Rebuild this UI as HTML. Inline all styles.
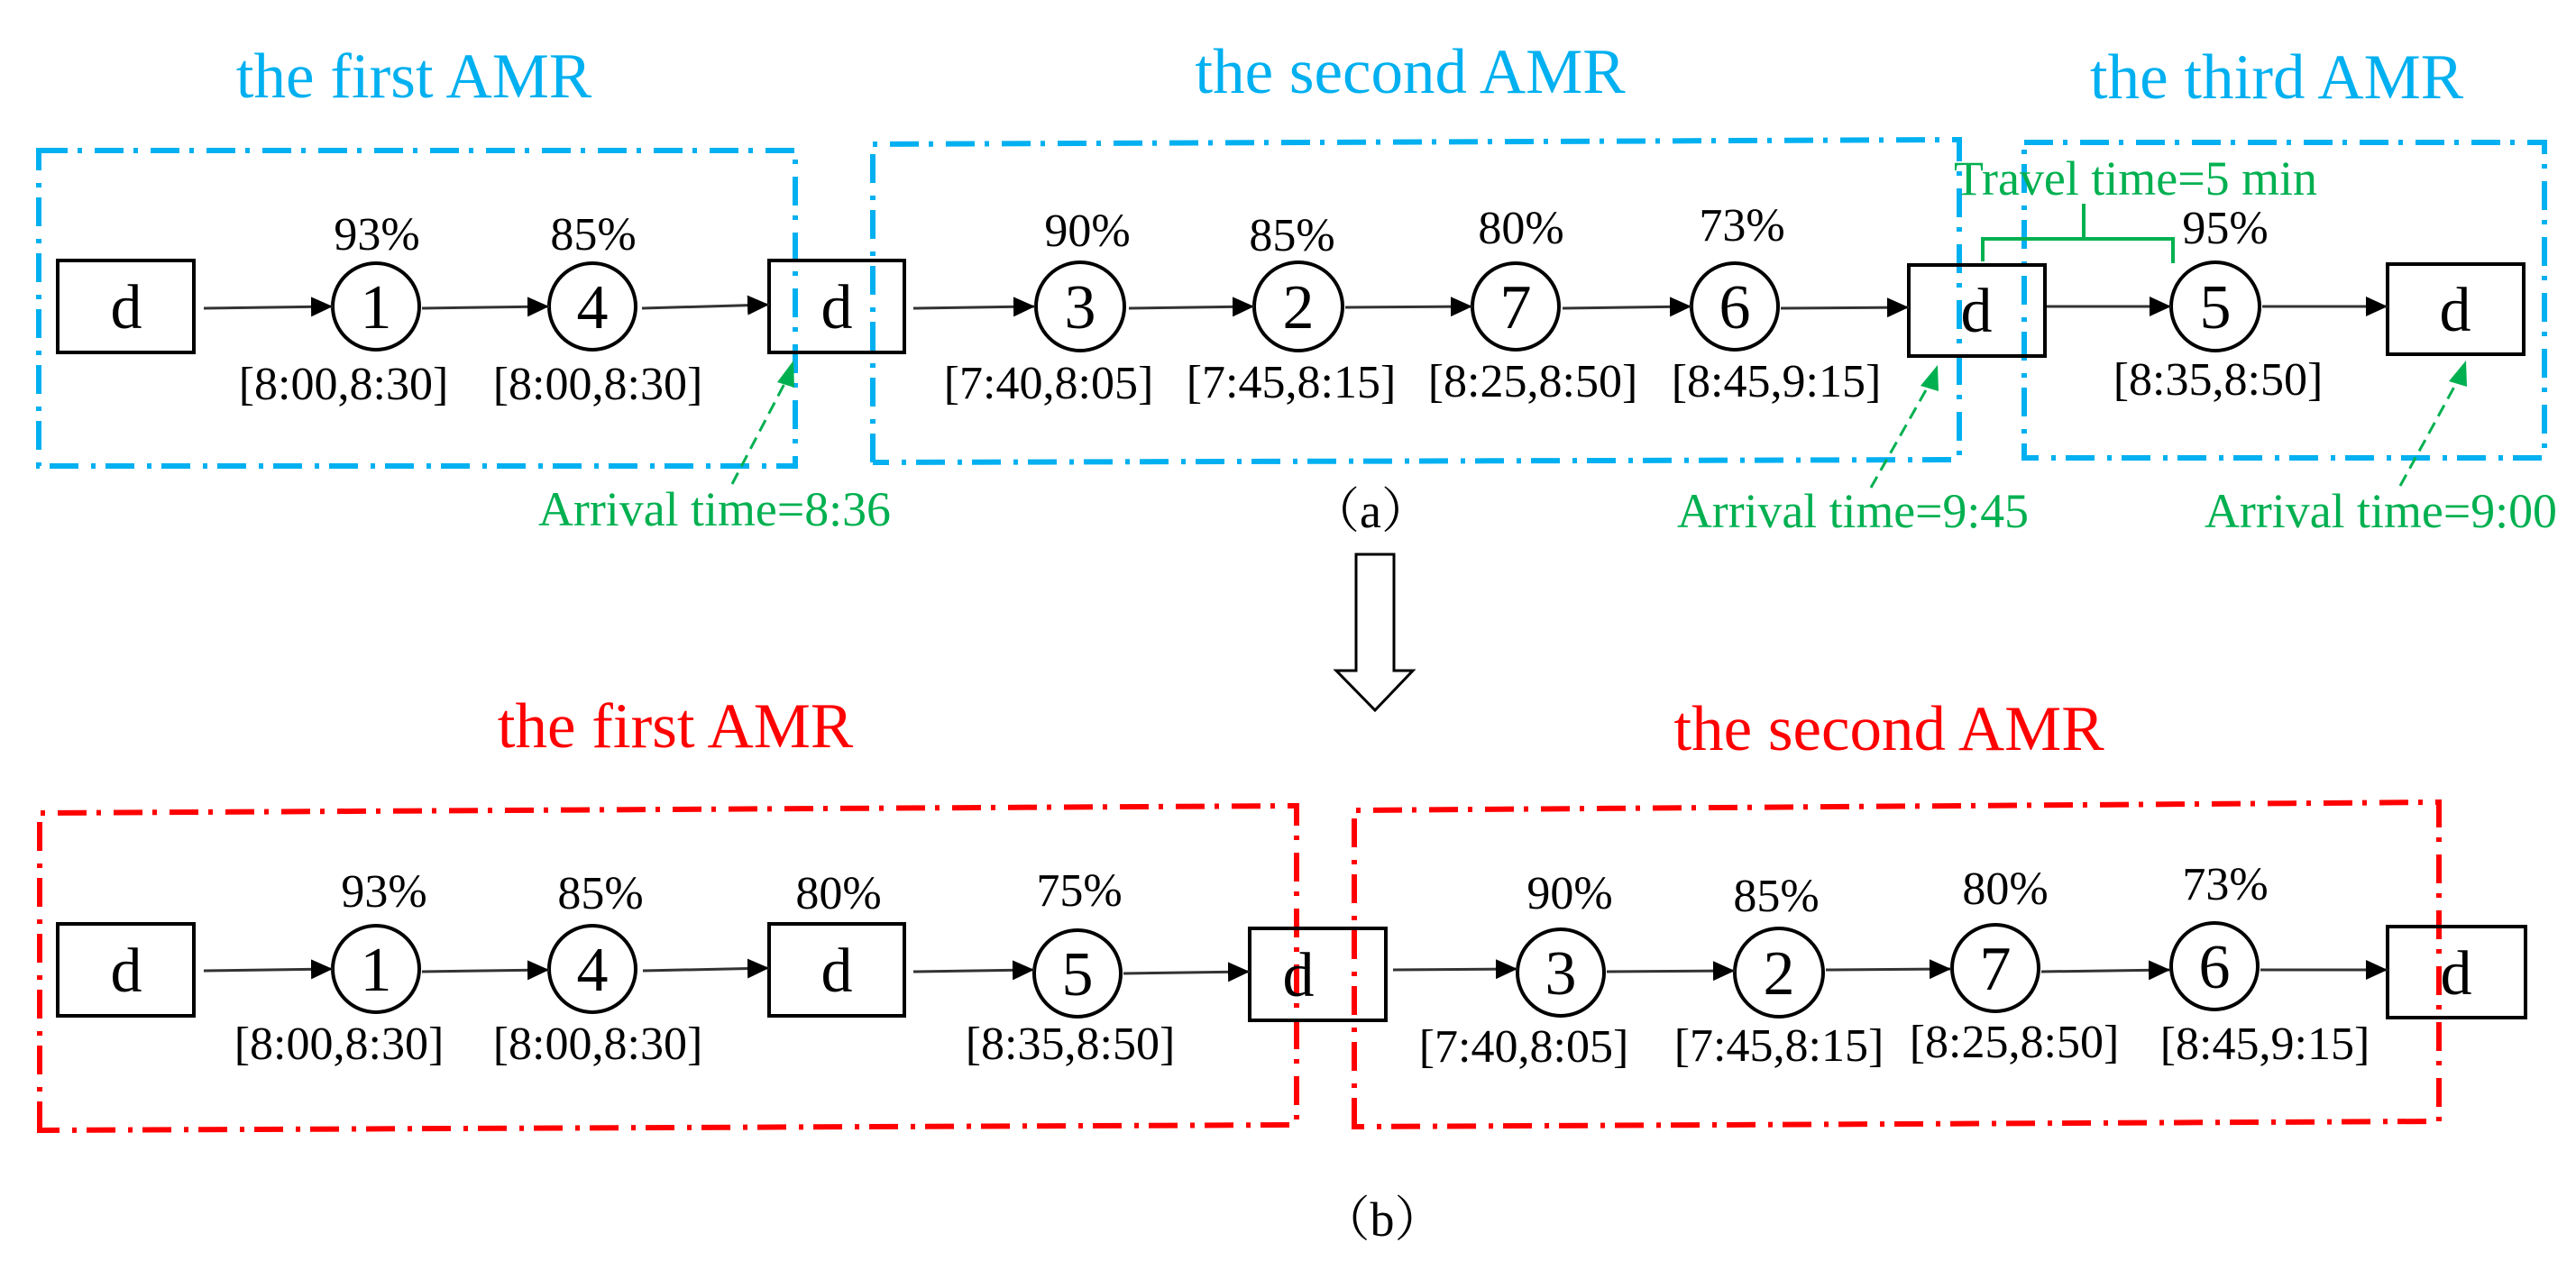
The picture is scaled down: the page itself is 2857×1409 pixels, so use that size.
<!DOCTYPE html>
<html><head><meta charset="utf-8"><style>html,body{margin:0;padding:0;background:#fff;}svg{display:block}</style></head>
<body>
<svg width="2857" height="1409" viewBox="0 0 2857 1409" xmlns="http://www.w3.org/2000/svg" font-family="'Liberation Serif', 'Noto Serif CJK SC', serif">
<defs>
<marker id="ah" markerWidth="24" markerHeight="22" refX="24" refY="11" orient="auto" markerUnits="userSpaceOnUse" viewBox="0 0 24 22"><path d="M0,0 L24,11 L0,22 z" fill="#000"/></marker>
</defs>
<g fill="#00b0f0" font-size="71">
<text x="459" y="108" text-anchor="middle">the first AMR</text>
<text x="1564" y="103" text-anchor="middle">the second AMR</text>
<text x="2525" y="109" text-anchor="middle">the third AMR</text>
</g>
<g fill="none" stroke="#00b0f0" stroke-width="6" stroke-dasharray="32 11 5 14">
<rect x="43" y="167" width="839" height="350"/>
<path d="M968,513 L968,160 L2173,155 L2173,510 L968,513"/>
<rect x="2245" y="158" width="577" height="350"/>
</g>
<g fill="#ff0000" font-size="71">
<text x="749" y="829" text-anchor="middle">the first AMR</text>
<text x="2095" y="832" text-anchor="middle">the second AMR</text>
</g>
<g fill="none" stroke="#ff0000" stroke-width="6" stroke-dasharray="32 11 5 14">
<path d="M44,1254 L44,902 L1438,894 L1438,1248 Z"/>
<path d="M1502,1250 L1502,899 L2705,890 L2705,1244 Z"/>
</g>
<g fill="none" stroke="#000" stroke-width="4">
<rect x="64" y="289" width="151" height="102"/>
<rect x="853" y="289" width="150" height="102"/>
<rect x="2117" y="294" width="151" height="101"/>
<rect x="2648" y="293" width="151" height="100"/>
<circle cx="417" cy="340" r="48"/>
<circle cx="657" cy="340" r="48"/>
<circle cx="1198" cy="340" r="49"/>
<circle cx="1440" cy="340" r="49"/>
<circle cx="1681" cy="340" r="48"/>
<circle cx="1924" cy="340" r="48"/>
<circle cx="2457" cy="340" r="49"/>
<rect x="64" y="1025" width="151" height="102"/>
<rect x="853" y="1025" width="150" height="102"/>
<rect x="1386" y="1030" width="151" height="102"/>
<rect x="2648" y="1028" width="153" height="101"/>
<circle cx="417" cy="1075" r="48"/>
<circle cx="657" cy="1075" r="48"/>
<circle cx="1195" cy="1080" r="48"/>
<circle cx="1731" cy="1079" r="48"/>
<circle cx="1973" cy="1079" r="49"/>
<circle cx="2213" cy="1074" r="48"/>
<circle cx="2456" cy="1072" r="48"/>
</g>
<g stroke="#333" stroke-width="3" marker-end="url(#ah)">
<line x1="226" y1="342" x2="369" y2="340"/>
<line x1="468" y1="342" x2="609" y2="340"/>
<line x1="712" y1="342" x2="853" y2="338"/>
<line x1="1013" y1="342" x2="1148" y2="340"/>
<line x1="1252" y1="342" x2="1391" y2="340"/>
<line x1="1492" y1="341" x2="1633" y2="340"/>
<line x1="1733" y1="342" x2="1876" y2="340"/>
<line x1="1975" y1="342" x2="2117" y2="341"/>
<line x1="2270" y1="340" x2="2408" y2="340"/>
<line x1="2509" y1="340" x2="2648" y2="340"/>
<line x1="226" y1="1077" x2="369" y2="1075"/>
<line x1="468" y1="1078" x2="609" y2="1076"/>
<line x1="713" y1="1077" x2="853" y2="1074"/>
<line x1="1013" y1="1078" x2="1147" y2="1076"/>
<line x1="1246" y1="1080" x2="1386" y2="1078"/>
<line x1="1545" y1="1076" x2="1683" y2="1075"/>
<line x1="1782" y1="1078" x2="1924" y2="1077"/>
<line x1="2025" y1="1076" x2="2164" y2="1075"/>
<line x1="2264" y1="1078" x2="2407" y2="1076"/>
<line x1="2507" y1="1076" x2="2648" y2="1076"/>
</g>
<g font-size="70" text-anchor="middle" fill="#000">
<text x="140" y="364">d</text><text x="928" y="364">d</text><text x="2192" y="368">d</text><text x="2723" y="367">d</text>
<text x="417" y="364">1</text><text x="657" y="364">4</text><text x="1198" y="364">3</text><text x="1440" y="364">2</text><text x="1681" y="364">7</text><text x="1924" y="364">6</text><text x="2457" y="364">5</text>
<text x="140" y="1100">d</text><text x="928" y="1100">d</text><text x="1440" y="1105">d</text><text x="2724" y="1103">d</text>
<text x="417" y="1099">1</text><text x="657" y="1099">4</text><text x="1195" y="1104">5</text><text x="1731" y="1103">3</text><text x="1973" y="1103">2</text><text x="2213" y="1098">7</text><text x="2456" y="1096">6</text>
</g>
<g font-size="52" text-anchor="middle" fill="#000">
<text x="418" y="277">93%</text><text x="658" y="277">85%</text><text x="1206" y="273">90%</text><text x="1433" y="278">85%</text><text x="1687" y="270">80%</text><text x="1932" y="267">73%</text><text x="2468" y="270">95%</text>
<text x="381" y="443">[8:00,8:30]</text><text x="663" y="443">[8:00,8:30]</text><text x="1163" y="442">[7:40,8:05]</text><text x="1432" y="441">[7:45,8:15]</text><text x="1700" y="440">[8:25,8:50]</text><text x="1970" y="440">[8:45,9:15]</text><text x="2460" y="438">[8:35,8:50]</text>
<text x="426" y="1006">93%</text><text x="666" y="1008">85%</text><text x="930" y="1008">80%</text><text x="1197" y="1005">75%</text>
<text x="1741" y="1008">90%</text><text x="1970" y="1011">85%</text><text x="2224" y="1003">80%</text><text x="2468" y="998">73%</text>
<text x="376" y="1175">[8:00,8:30]</text><text x="663" y="1175">[8:00,8:30]</text><text x="1187" y="1175">[8:35,8:50]</text>
<text x="1690" y="1178">[7:40,8:05]</text><text x="1973" y="1177">[7:45,8:15]</text><text x="2234" y="1173">[8:25,8:50]</text><text x="2512" y="1175">[8:45,9:15]</text>
</g>
<g font-size="54" text-anchor="middle" fill="#000">
<text x="1520" y="585">（a）</text>
<text x="1533" y="1371">（b）</text>
</g>
<g fill="#00b050" font-size="54">
<text x="597" y="583" textLength="391" lengthAdjust="spacingAndGlyphs">Arrival  time=8:36</text>
<text x="1860" y="585" textLength="390" lengthAdjust="spacingAndGlyphs">Arrival  time=9:45</text>
<text x="2445" y="585" textLength="391" lengthAdjust="spacingAndGlyphs">Arrival  time=9:00</text>
<text x="2167" y="216" textLength="403" lengthAdjust="spacingAndGlyphs">Travel  time=5 min</text>
</g>
<g stroke="#00b050" stroke-width="3" fill="none">
<line x1="812" y1="537" x2="873" y2="420" stroke-dasharray="14 8"/>
<line x1="2075" y1="541" x2="2141" y2="424" stroke-dasharray="14 8"/>
<line x1="2662" y1="539" x2="2727" y2="420" stroke-dasharray="14 8"/>
<path d="M2199,290 L2199,265 L2410,265 L2410,292 M2311,265 L2311,226" stroke-width="4"/>
</g>
<g fill="#00b050">
<polygon points="880,400 862,424 881,430"/>
<polygon points="2149,405 2130,428 2150,434"/>
<polygon points="2735,400 2716,423 2736,429"/>
</g>
<path d="M1504,615 L1546,615 L1546,744 L1567,744 L1525,788 L1482,744 L1504,744 Z" fill="none" stroke="#000" stroke-width="3"/>
</svg>
</body></html>
